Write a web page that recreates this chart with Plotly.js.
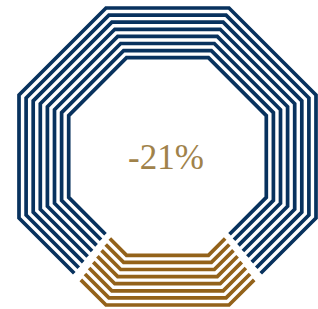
<!DOCTYPE html>
<html>
<head>
<meta charset="utf-8">
<script src="https://cdn.plot.ly/plotly-3.0.1.min.js"></script>
<style>html,body{margin:0;padding:0;background:#fff;}#chart{width:318px;height:309px;}</style>
</head>
<body>
<div id="chart"></div>
<script>
// Data
const centerLabel = ['-21%'];
const segmentNames = ['Change', 'Rest'];
const segmentShares = [0.21, 0.79];

// Style
const segmentColors = ['#93621a', '#08325e'];
const ringCount = 8;
const outerApothem = 148.5;
const ringStep = 7.1;
const gapBefore = 2.7;   // degrees trimmed off the highlighted segment at each end
const gapAfter = 0.8;    // degrees trimmed off the remaining segment at each end

function octPoint(theta, a) {
  const n = Math.round(theta / 45) * 45;
  const r = a / Math.cos((theta - n) * Math.PI / 180);
  const t = theta * Math.PI / 180;
  return [r * Math.cos(t), r * Math.sin(t)];
}
function octPath(t0, t1, a) {
  const xs = [], ys = [];
  const ang = [t0];
  let v = Math.ceil((t0 - 22.5) / 45) * 45 + 22.5;
  for (; v < t1; v += 45) if (v > t0) ang.push(v);
  ang.push(t1);
  ang.forEach(t => { const p = octPoint(t, a); xs.push(p[0]); ys.push(p[1]); });
  return [xs, ys];
}

const split = segmentShares[0] * 180; // half-span of highlighted segment, centred at bottom
const traces = [];
for (let i = 0; i < ringCount; i++) {
  const a = outerApothem - i * ringStep;
  const g = octPath(-90 - split + gapBefore, -90 + split - gapBefore, a);
  traces.push({type: 'scatter', mode: 'lines', x: g[0], y: g[1], name: segmentNames[0],
    line: {color: segmentColors[0], width: 3.7}, hoverinfo: 'skip', showlegend: false});
  const b = octPath(-90 + split + gapAfter, 270 - split - gapAfter, a);
  traces.push({type: 'scatter', mode: 'lines', x: b[0], y: b[1], name: segmentNames[1],
    line: {color: segmentColors[1], width: 3.7}, hoverinfo: 'skip', showlegend: false});
}

const layout = {
  width: 318, height: 309,
  margin: {l: 0, r: 0, t: 0, b: 0},
  paper_bgcolor: '#ffffff', plot_bgcolor: '#ffffff',
  xaxis: {range: [-167.5, 150.5], visible: false, fixedrange: true},
  yaxis: {range: [-152.5, 156.5], visible: false, fixedrange: true},
  showlegend: false,
  annotations: [{
    x: -2, y: -1, xref: 'x', yref: 'y', text: centerLabel[0], showarrow: false,
    font: {family: 'Liberation Serif, DejaVu Serif, serif', size: 35, color: '#a0824a'},
    xanchor: 'center', yanchor: 'middle'
  }]
};
Plotly.newPlot('chart', traces, layout, {staticPlot: true, displayModeBar: false});
</script>
</body>
</html>
